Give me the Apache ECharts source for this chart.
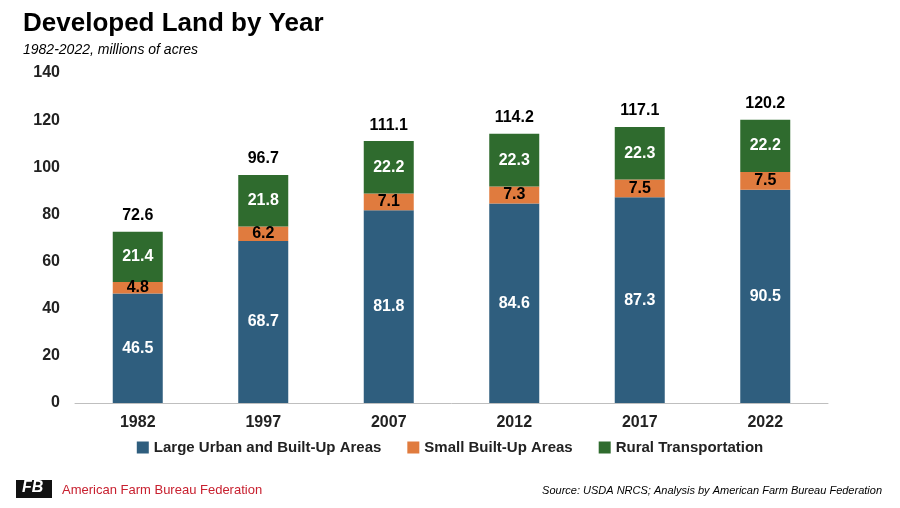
<!DOCTYPE html>
<html><head><meta charset="utf-8">
<script src="https://cdn.jsdelivr.net/npm/echarts@6/dist/echarts.min.js"></script>
<style>html,body{margin:0;padding:0;background:#fff}#c{width:900px;height:508px}</style>
</head><body><div id="c"></div>
<script>
const categories = ['1982','1997','2007','2012','2017','2022'];
const largeUrban = [46.5,68.7,81.8,84.6,87.3,90.5];
const smallBuiltUp = [4.8,6.2,7.1,7.3,7.5,7.5];
const ruralTransport = [21.4,21.8,22.2,22.3,22.3,22.2];
const totals = [72.6,96.7,111.1,114.2,117.1,120.2];
const yTicks = [0,20,40,60,80,100,120,140];

const chart = echarts.init(document.getElementById('c'));
const F = 'Liberation Sans, Arial, sans-serif';
const segLabel = (color) => ({show:true, position:'inside', color:color, fontSize:16, fontWeight:'bold', fontFamily:F});
chart.setOption({
  animation:false,
  title:[
    {text:'Developed Land by Year', left:18, top:6, textStyle:{fontFamily:F, fontSize:26, fontWeight:'bold', color:'#000'}},
    {text:'1982-2022, millions of acres', left:18, top:38, textStyle:{fontFamily:F, fontSize:14, fontStyle:'italic', fontWeight:'normal', color:'#000'}}
  ],
  legend:{bottom:48, left:'center', itemWidth:12, itemHeight:12, itemGap:26, icon:'rect',
    data:['Large Urban and Built-Up Areas','Small Built-Up Areas','Rural Transportation'],
    textStyle:{fontFamily:F, fontSize:15, fontWeight:'bold', color:'#222'}},
  grid:{left:75, right:72, top:73, bottom:105},
  xAxis:{type:'category', data:categories, axisTick:{show:false},
    axisLine:{lineStyle:{color:'#bfbfbf'}},
    axisLabel:{fontFamily:F, fontSize:16, fontWeight:'bold', color:'#222', margin:12}},
  yAxis:{type:'value', min:0, max:140, interval:20, splitLine:{show:false},
    axisLabel:{fontFamily:F, fontSize:16, fontWeight:'bold', color:'#222', margin:15,
      formatter:(v)=> yTicks.includes(v)? String(v):''}},
  series:[
    {name:'Large Urban and Built-Up Areas', type:'bar', stack:'a', barWidth:50, data:largeUrban, itemStyle:{color:'#2F5E7E'}, label:segLabel('#fff')},
    {name:'Small Built-Up Areas', type:'bar', stack:'a', data:smallBuiltUp, itemStyle:{color:'#E07B3E'}, label:segLabel('#000')},
    {name:'Rural Transportation', type:'bar', stack:'a', data:ruralTransport, itemStyle:{color:'#2F6B2E'}, label:segLabel('#fff')},
    {name:'Total', type:'bar', stack:'a', data:totals.map(()=>0), itemStyle:{color:'transparent'},
      label:{show:true, position:'top', distance:8, color:'#000', fontSize:16, fontWeight:'bold', fontFamily:F,
        formatter:(p)=> totals[p.dataIndex].toFixed(1)}}
  ],
  graphic:[
    {type:'rect', left:16, top:480, shape:{width:36, height:18}, style:{fill:'#111'}},
    {type:'text', left:22, top:480, style:{text:'FB', fill:'#fff', font:'italic bold 16px '+F}},
    {type:'text', left:62, top:484, style:{text:'American Farm Bureau Federation', fill:'#C8202F', font:'13px '+F}},
    {type:'text', right:18, top:485, style:{text:'Source: USDA NRCS; Analysis by American Farm Bureau Federation', fill:'#000', font:'italic 11px '+F}}
  ]
});
</script></body></html>
